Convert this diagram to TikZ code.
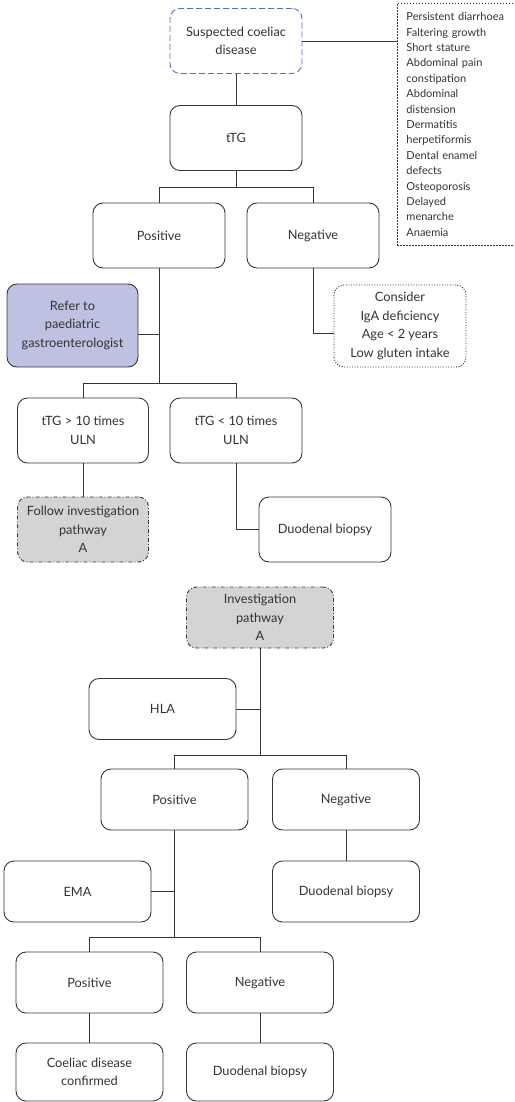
\documentclass[tikz,border=0pt]{standalone}
\usepackage{fontspec}
\setmainfont{Lato}
\definecolor{linec}{HTML}{363636}
\definecolor{textc}{HTML}{333333}
\definecolor{lav}{HTML}{BEC1E1}
\definecolor{grayfill}{HTML}{D4D4D4}
\definecolor{bluedash}{HTML}{5672B4}
\begin{document}
\begin{tikzpicture}[x=1pt, y=-1pt,
  box/.style={draw=linec, line width=0.9pt, rounded corners=10pt, minimum width=132pt, minimum height=65pt,
    inner sep=2pt, align=center, text=textc, font=\fontsize{12.8}{18.5}\selectfont},
  wide/.style={minimum width=147pt, minimum height=61pt},
  dashbox/.style={box, draw=bluedash, dash pattern=on 6pt off 3pt},
  gbox/.style={box, fill=grayfill, dash pattern=on 4pt off 2pt on 1pt off 2pt},
  dotbox/.style={box, dash pattern=on 1pt off 1.6pt},
  symbox/.style={draw=linec, line width=0.9pt, dash pattern=on 1.5pt off 1.5pt, minimum height=242pt,
    text width=180pt, inner xsep=9pt, align=left, text=textc, font=\fontsize{11}{15.4}\selectfont},
  link/.style={draw=linec, line width=0.9pt}]
\useasboundingbox (0,0) rectangle (514,1102);
\clip (0,0) rectangle (514,1102);
\node[dashbox] (cd0) at (236,41) {Suspected coeliac\\disease};
\node[symbox, anchor=north west] (cd1) at (397,3) {Persistent diarrhoea\\Faltering growth\\Short stature\\Abdominal pain\\constipation\\Abdominal\\distension\\Dermatitis\\herpetiformis\\Dental enamel\\defects\\Osteoporosis\\Delayed\\menarche\\Anaemia};
\draw[link](cd0.east) -- (cd0.east -| cd1.west);
\node[box] (cd2) at (236,138) {tTG};
\draw[link](cd0) -- (cd2);
\node[box] (cd3) at (159,235.5) {Positive};
\node[box] (cd4) at (313,235.5) {Negative};
\coordinate (cj0) at (236,187);
\draw[link](cd2) -- (cj0) -| (cd3);
\draw[link](cj0) -| (cd4);
\node[box, fill=lav, minimum width=131pt, minimum height=83pt] (cd5) at (72.5,325.5) {Refer to\\paediatric\\gastroenterologist};
\node[dotbox, minimum height=82pt] (cd6) at (400,326) {Consider\\IgA deficiency\\Age < 2 years\\Low gluten intake};
\coordinate (cj1) at (313,333);
\draw[link](cd4) -- (cj1) -- (cd6.west |- cj1);
\coordinate (cj2) at (159,334);
\coordinate (cj3) at (159,383);
\draw[link](cd5.east |- cj2) -- (cj2);
\node[box, minimum width=131pt] (cd7) at (83,430.5) {tTG > 10 times\\ULN};
\node[box] (cd8) at (236,430.5) {tTG < 10 times\\ULN};
\draw[link](cd3) -- (cj3) -| (cd7);
\draw[link](cj3) -| (cd8);
\node[gbox, minimum width=131pt] (cd9) at (83,529.5) {Follow investigation\\pathway\\A};
\draw[link](cd7) -- (cd9);
\node[box] (cd10) at (325,529.5) {Duodenal biopsy};
\draw[link](cd8) |- (cd10);
\node[gbox, wide] (cd11) at (260,617.5) {Investigation\\pathway\\A};
\node[box, wide] (cd12) at (162.5,709) {HLA};
\coordinate (cj4) at (260,755);
\draw[link](cd11) -- (cj4);
\draw[link](cd12.east) -- (cd12.east -| cj4);
\node[box, wide] (cd13) at (174.5,799.5) {Positive};
\node[box, wide] (cd14) at (346,799.5) {Negative};
\draw[link](cj4) -| (cd13);
\draw[link](cj4) -| (cd14);
\node[box, wide] (cd15) at (77.5,891.5) {EMA};
\node[box, wide] (cd16) at (346,891.5) {Duodenal biopsy};
\draw[link](cd14) -- (cd16);
\coordinate (cj5) at (174.5,937);
\draw[link](cd13) -- (cj5);
\draw[link](cd15.east) -- (cd15.east -| cj5);
\node[box, wide] (cd17) at (89.5,982.5) {Positive};
\node[box, wide] (cd18) at (260,982.5) {Negative};
\draw[link](cj5) -| (cd17);
\draw[link](cj5) -| (cd18);
\node[box, wide, minimum height=58pt] (cd19) at (89.5,1072) {Coeliac disease\\confirmed};
\node[box, wide, minimum height=58pt] (cd20) at (260,1072) {Duodenal biopsy};
\draw[link](cd17) -- (cd19);
\draw[link](cd18) -- (cd20);
\end{tikzpicture}
\end{document}
